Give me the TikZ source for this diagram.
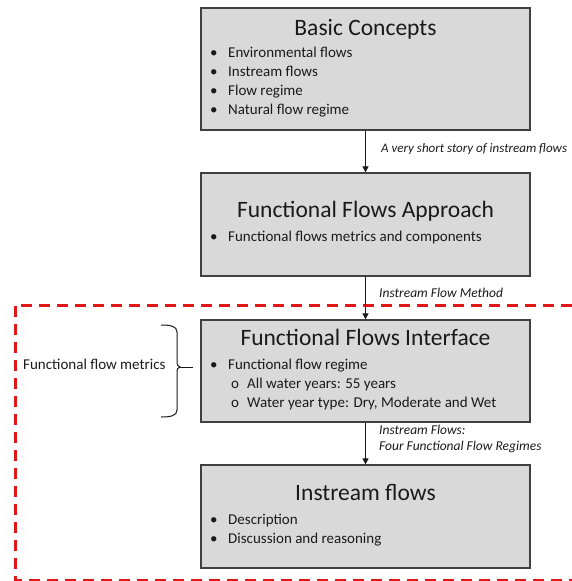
\documentclass[tikz,border=0pt]{standalone}
\usepackage{fontspec}
\setmainfont{Carlito}
\usetikzlibrary{arrows.meta}
\definecolor{boxfill}{HTML}{D9D9D9}
\definecolor{boxline}{HTML}{404040}
\definecolor{txt}{HTML}{1A1A1A}
\definecolor{redline}{HTML}{E01818}
\tikzset{
  box/.style={draw=boxline, line width=1.3pt, fill=boxfill, inner sep=0pt},
  title/.style={font=\fontsize{23.5}{28}\selectfont, text=txt, anchor=center, inner sep=0pt, text height=0.7em, text depth=0.2em},
  item/.style={font=\fontsize{15}{18}\selectfont, text=txt, anchor=west, inner sep=0pt, text height=0.7em, text depth=0.2em},
  lbl/.style={font=\fontsize{13.5}{16}\selectfont\itshape, text=txt, anchor=west, inner sep=0pt, text height=0.7em, text depth=0.2em},
  conn/.style={draw=txt, line width=1pt, -{Triangle[length=6pt,width=6pt]}},
  frame/.style={draw=redline, line width=3pt, dash pattern=on 11pt off 7pt},
  bracestyle/.style={draw=txt, line width=1pt}
}
\newcommand{\bul}{\textbullet}
\begin{document}
\begin{tikzpicture}[x=1pt,y=-1pt]
\useasboundingbox (0,0) rectangle (572,581);
% red dashed frame
\draw[frame] (590,305) -- (15,305) -- (15,580) -- (590,580);
% boxes
\node[box, minimum width=329pt, minimum height=122pt] (b1) at (365.5,69) {};
\node[box, minimum width=329pt, minimum height=103pt] (b2) at (365.5,224.5) {};
\node[box, minimum width=329pt, minimum height=102pt] (b3) at (365.5,371) {};
\node[box, minimum width=329pt, minimum height=103pt] (b4) at (365.5,516.5) {};
% box 1 text
\node[title] (t1) at (365.5,33) {Basic Concepts};
\node[item] (t1a) at (210,55) {\bul};
\node[item] (t1b) at (228,55) {Environmental flows};
\node[item] (t1c) at (210,74) {\bul};
\node[item] (t1d) at (228,74) {Instream flows};
\node[item] (t1e) at (210,93) {\bul};
\node[item] (t1f) at (228,93) {Flow regime};
\node[item] (t1g) at (210,112) {\bul};
\node[item] (t1h) at (228,112) {Natural flow regime};
% box 2 text
\node[title] (t2) at (365.5,215) {Functional Flows Approach};
\node[item] (t2a) at (210,239) {\bul};
\node[item] (t2b) at (228,239) {Functional flows metrics and components};
% box 3 text
\node[title] (t3) at (365.5,343) {Functional Flows Interface};
\node[item] (t3a) at (210,367) {\bul};
\node[item] (t3b) at (228,367) {Functional flow regime};
\node[item] (t3c) at (231,386) {o};
\node[item] (t3d) at (247,386) {All water years: 55 years};
\node[item] (t3e) at (231,405) {o};
\node[item] (t3f) at (247,405) {Water year type: Dry, Moderate and Wet};
% box 4 text
\node[title] (t4) at (365.5,498) {Instream flows};
\node[item] (t4a) at (210,522) {\bul};
\node[item] (t4b) at (228,522) {Description};
\node[item] (t4c) at (210,541) {\bul};
\node[item] (t4d) at (228,541) {Discussion and reasoning};
% connectors
\draw[conn] (b1.south) -- (b2.north);
\draw[conn] (b2.south) -- (b3.north);
\draw[conn] (b3.south) -- (b4.north);
% connector labels
\node[lbl, font=\fontsize{13}{16}\selectfont\itshape] (l1) at (381,150) {A very short story of instream flows};
\node[lbl] (l2) at (379,295) {Instream Flow Method};
\node[lbl] (l3) at (379,432) {Instream Flows:};
\node[lbl] (l4) at (379,448) {Four Functional Flow Regimes};
% brace and its label
\coordinate (br) at (180,367);
\draw[bracestyle] (161,325) .. controls (170,325) and (177,326) .. (177,332) -- (177,361) .. controls (177,365) and (178,367) .. (br) .. controls (178,367) and (177,369) .. (177,373) -- (177,410) .. controls (177,416) and (170,417) .. (161,417);
\draw[bracestyle] (br) -- (193,367);
\node[item] (bl) at (23,367) {Functional flow metrics};
\end{tikzpicture}
\end{document}
